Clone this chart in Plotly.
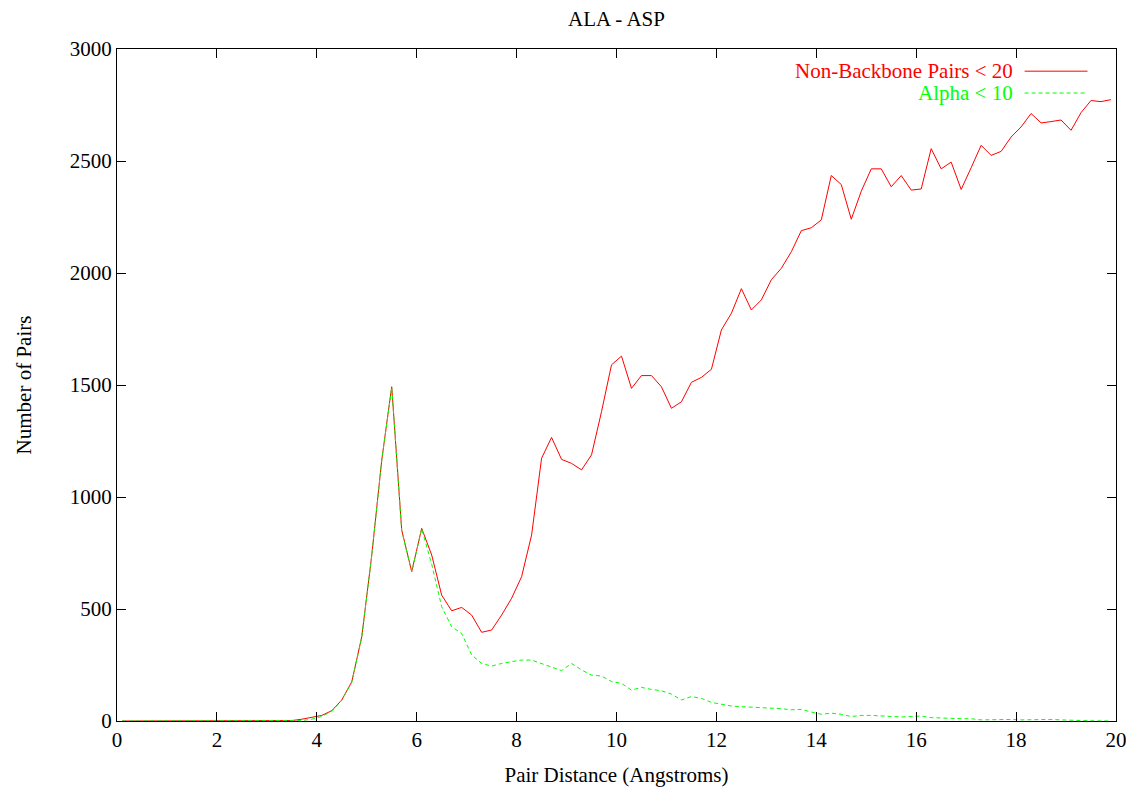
import plotly.graph_objects as go

# bin centres 0.1, 0.3, ..., 19.9
distance = [round(0.1 + 0.2 * k, 1) for k in range(100)]

non_backbone = [
    0, 0, 0, 0, 0, 0, 0, 0, 0, 0,            # 0.1 - 1.9
    0, 0, 0, 0, 0, 0, 0, 2, 8, 15,           # 2.1 - 3.9
    25, 46, 94, 175, 376, 740, 1165, 1492, 852, 667,   # 4.1 - 5.9
    860, 741, 562, 492, 507, 473, 396, 406, 473, 548,  # 6.1 - 7.9
    644, 830, 1173, 1266, 1168, 1150, 1121, 1188, 1381, 1590,  # 8.1 - 9.9
    1629, 1485, 1542, 1542, 1492, 1396, 1425, 1512, 1534, 1570,  # 10.1 - 11.9
    1746, 1820, 1930, 1835, 1880, 1970, 2021, 2095, 2189, 2202,  # 12.1 - 13.9
    2237, 2435, 2395, 2240, 2365, 2465, 2465, 2385, 2435, 2370,  # 14.1 - 15.9
    2375, 2555, 2465, 2495, 2373, 2470, 2570, 2525, 2543, 2607,  # 16.1 - 17.9
    2652, 2712, 2670, 2676, 2683, 2637, 2716, 2770, 2765, 2774,  # 18.1 - 19.9
]

alpha = [
    0, 0, 0, 0, 0, 0, 0, 0, 0, 0,
    0, 0, 0, 0, 0, 0, 0, 1, 2, 8,
    20, 44, 92, 173, 374, 738, 1163, 1490, 850, 665,
    858, 700, 510, 421, 391, 295, 257, 245, 257, 265,
    272, 272, 257, 240, 225, 257, 228, 205, 201, 176,
    168, 138, 150, 141, 135, 120, 94, 109, 101, 83,
    74, 67, 64, 62, 60, 57, 55, 50, 52, 40,
    30, 35, 30, 20, 25, 25, 22, 22, 18, 20,
    22, 15, 15, 12, 10, 10, 5, 6, 5, 7,
    5, 6, 5, 7, 5, 2, 2, 1, 1, 0,
]

series_names = ["Non-Backbone Pairs < 20", "Alpha < 10"]
x_ticks = [0, 2, 4, 6, 8, 10, 12, 14, 16, 18, 20]
y_ticks = [0, 500, 1000, 1500, 2000, 2500, 3000]

FONT = "Liberation Serif, Times New Roman, serif"
FS = 21
RED = "#ff0000"
GREEN = "#00ff00"
W, H = 1118, 780   # page places the figure at (8, 8)

fig = go.Figure()
fig.add_trace(go.Scatter(x=distance, y=non_backbone, mode="lines", name=series_names[0],
                         line=dict(color=RED, width=1), showlegend=False))
fig.add_trace(go.Scatter(x=distance, y=alpha, mode="lines", name=series_names[1],
                         line=dict(color=GREEN, width=1, dash="4px,3px"), showlegend=False))

axis_common = dict(showgrid=False, zeroline=False, showline=True, linecolor="black",
                   linewidth=1, mirror="allticks", ticks="inside", ticklen=9,
                   tickcolor="black", ticklabeloverflow="allow", automargin=False,
                   tickfont=dict(family=FONT, size=FS, color="black"))

fig.update_layout(
    width=W, height=H,
    margin=dict(l=109, r=10, t=41, b=67),
    paper_bgcolor="white", plot_bgcolor="white",
    font=dict(family=FONT, size=FS, color="black"),
    title=dict(text="ALA - ASP", x=0.5, xref="paper", xanchor="center", y=1 - 11 / H, yanchor="middle",
               font=dict(family=FONT, size=FS, color="black")),
    xaxis=dict(range=[0, 20], tickvals=x_ticks, title=dict(text="Pair Distance (Angstroms)", standoff=16,
               font=dict(family=FONT, size=FS)), **axis_common),
    yaxis=dict(range=[0, 3000], tickvals=y_ticks, title=dict(text="Number of Pairs", standoff=32,
               font=dict(family=FONT, size=FS)), **axis_common),
)

# gnuplot-style key: text right-aligned, sample line to the right
key_rows = [(series_names[0], RED, "solid", 0.967), (series_names[1], GREEN, "4px,3px", 0.9345)]
for text, col, dash, yk in key_rows:
    fig.add_annotation(xref="paper", yref="paper", x=0.8985, y=yk, text=text, showarrow=False,
                       xanchor="right", yanchor="middle", font=dict(family=FONT, size=FS, color=col))
    fig.add_shape(type="line", xref="paper", yref="paper", x0=0.9085, x1=0.9715, y0=yk, y1=yk,
                  line=dict(color=col, width=1, dash=dash))

fig.write_html("out.html", config={"displayModeBar": False})
